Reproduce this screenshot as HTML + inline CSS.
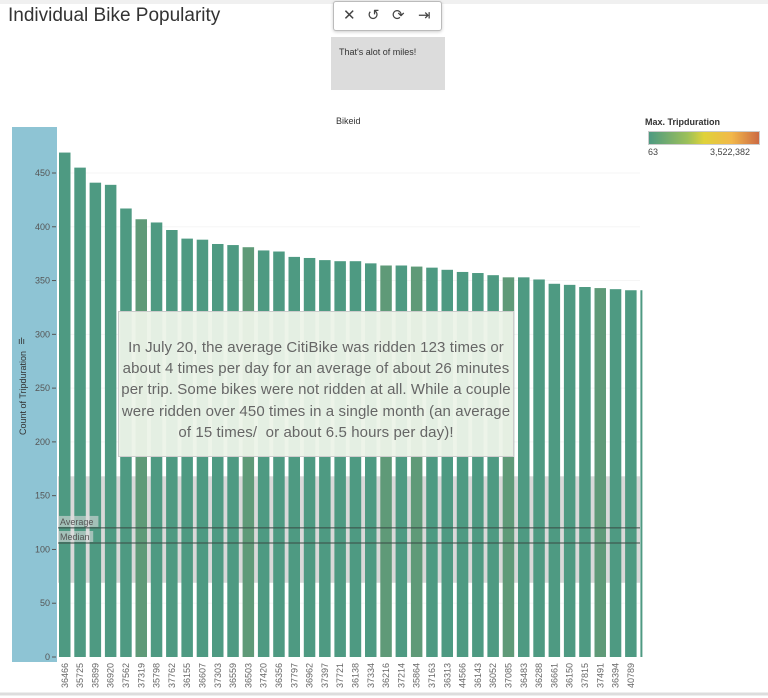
<!DOCTYPE html>
<html><head><meta charset="utf-8"><style>
body{margin:0;width:768px;height:698px;background:#fff;font-family:"Liberation Sans",sans-serif;overflow:hidden;position:relative}
</style></head><body>
<div style="position:absolute;left:0;top:0;width:768px;height:4px;background:#f0f0f0"></div>
<div style="position:absolute;left:8px;top:5px;font-size:19px;color:#333">Individual Bike Popularity</div>
<div style="position:absolute;left:333px;top:1px;width:107px;height:28px;border:1px solid #bbb;border-radius:3px;background:#fff;box-shadow:0 1px 3px rgba(0,0,0,.2);font-size:15px;color:#444">
<span style="position:absolute;left:9px;top:4px">✕</span>
<span style="position:absolute;left:33px;top:4px">↺</span>
<span style="position:absolute;left:58px;top:4px">⟳</span>
<span style="position:absolute;left:84px;top:4px">⇥</span></div>
<div style="position:absolute;left:331px;top:37px;width:114px;height:53px;background:#dcdcdc;font-size:9px;color:#333;padding:10px 8px;box-sizing:border-box">That's alot of miles!</div>
<div style="position:absolute;left:336px;top:116px;font-size:9px;color:#333">Bikeid</div>
<div style="position:absolute;left:645px;top:117px;font-size:9px;font-weight:bold;color:#333">Max. Tripduration</div>
<div style="position:absolute;left:648px;top:131px;width:110px;height:12px;border:1px solid #ccc;background:linear-gradient(90deg,#4e9a82,#9cc05a 35%,#dfd23a 50%,#f2b84a 75%,#cc6a44)"></div>
<div style="position:absolute;left:648px;top:147px;font-size:9px;color:#444">63</div>
<div style="position:absolute;left:710px;top:147px;font-size:9px;color:#444">3,522,382</div>
<svg id="chart" width="768" height="698" style="position:absolute;left:0;top:0"></svg>
<div style="position:absolute;left:118px;top:311px;width:396px;height:146px;background:rgba(236,243,232,0.95);border:1px solid #ccc;box-sizing:border-box;font-size:15px;line-height:21.2px;color:#666;text-align:center;padding:25px 0 0;white-space:nowrap;letter-spacing:0.1px">In July 20, the average CitiBike was ridden 123 times or<br>about 4 times per day for an average of about 26 minutes<br>per trip. Some bikes were not ridden at all. While a couple<br>were ridden over 450 times in a single month (an average<br>of 15 times/&nbsp; or about 6.5 hours per day)!</div>
<script>
const categories=["36466","35725","35899","36920","37562","37319","35798","37762","36155","36607","37303","36559","36503","37420","36356","37797","36962","37397","37721","36138","37334","36216","37214","35864","37163","36313","44566","36143","36052","37085","36483","36288","36661","36150","37815","37491","36394","40789",""];
const counts=[469,455,441,439,417,407,404,397,389,388,384,383,381,378,377,372,371,369,368,368,366,364,364,363,362,360,358,357,355,353,353,351,347,346,344,343,342,341,341];
const olive=["37319","36503","36216","35864","37085","37491"];
const yTicks=[0,50,100,150,200,250,300,350,400,450];
const refLines=[{label:"Average",value:120},{label:"Median",value:106}];
const band=[69,168];
const NS="http://www.w3.org/2000/svg";
const svg=document.getElementById('chart');
const y0=657,k=484/450,x0=58,pitch=15.3,bw=11.5;
const y=v=>y0-v*k;
const x=i=>x0+1+i*pitch;
function mk(t,a){const e=document.createElementNS(NS,t);for(const n in a)e.setAttribute(n,a[n]);svg.appendChild(e);return e;}
let e=mk('rect',{x:12,y:127,width:45,height:535,fill:'#8ec4d4'});


yTicks.forEach(t=>{
 if(t>0){let g=mk('line',{x1:x0,x2:640,y1:y(t),y2:y(t),stroke:'#f5f5f5'});}
 let tk=mk('line',{x1:52,x2:56,y1:y(t),y2:y(t),stroke:'#555'});
 
 
 let tx=mk('text',{x:50,y:y(t)+3,'text-anchor':'end','font-size':9,fill:'#555','font-family':'Liberation Sans'});
 tx.textContent=t;
 
 
});
let bd=mk('rect',{x:x0,y:y(band[1]),width:582,height:(band[1]-band[0])*k,fill:'#d9d9d9'});


categories.forEach((c,i)=>{
 const w=i==categories.length-1?2:bw;
 let r=mk('rect',{x:x(i),y:y(counts[i]),width:w,height:counts[i]*k,fill:olive.includes(c)?'#5f9a78':'#4e9a82'});
 
 
 if(c){let t=mk('text',{x:0,y:0,'font-size':9,fill:'#666','font-family':'Liberation Sans','text-anchor':'end',transform:`translate(${x(i)+bw/2+3},${y0+6}) rotate(-90)`});
 t.textContent=c;
 
 }
});
refLines.forEach(r=>{
 let l=mk('line',{x1:x0,x2:640,y1:y(r.value),y2:y(r.value),stroke:'#3a4a44','stroke-width':1});
 
 
 let b=mk('rect',{x:x0,y:y(r.value)-12,width:r.label.length*5.2+4,height:11,fill:'rgba(220,220,220,0.6)'});
 
 
 let t=mk('text',{x:x0+2,y:y(r.value)-3,'font-size':9,fill:'#555','font-family':'Liberation Sans'});
 t.textContent=r.label;
 
 
});
let yt=mk('text',{x:0,y:0,'font-size':9,fill:'#333','font-family':'Liberation Sans','text-anchor':'middle',transform:'translate(26,393) rotate(-90)'});
yt.textContent='Count of Tripduration';


let ic=mk('text',{x:18,y:344,'font-size':9,fill:'#333'});
ic.textContent='ılı';


let bl=mk('line',{x1:0,x2:768,y1:694,y2:694,stroke:'#ddd','stroke-width':3});


</script>
</body></html>
